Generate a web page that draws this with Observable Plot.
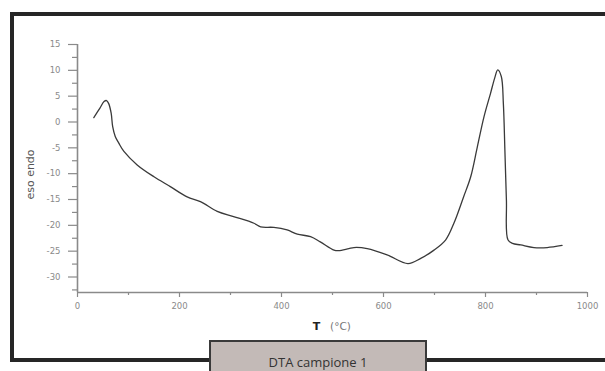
<!DOCTYPE html>
<html>
<head>
<meta charset="utf-8">
<script src="https://cdn.jsdelivr.net/npm/d3@7"></script>
<script src="https://cdn.jsdelivr.net/npm/@observablehq/plot@0.6"></script>
<style>
  html, body { margin: 0; padding: 0; background: #fff; }
  #wrap { position: relative; width: 605px; height: 371px; overflow: hidden; background: #fff; }
  #frame { position: absolute; left: 10px; top: 12px; width: 610px; height: 342px; border: 4px solid #262626; box-sizing: content-box; pointer-events: none; }
  #caption { position: absolute; left: 209px; top: 340px; width: 218px; height: 40px; background: #c3bab7; border: 2px solid #3a3a3a; font-family: "Open Sans", sans-serif; font-size: 13px; color: #333; text-align: center; line-height: 40px; box-sizing: border-box; }
  #caption span { position: relative; top: 0px; }
</style>
</head>
<body>
<div id="wrap">
  <div id="chart"></div>
  <div id="frame"></div>
  <div id="caption"><span>DTA campione 1</span></div>
</div>
<script>
// Temperature (°C)
const temps = [32, 44, 52, 57, 61, 66, 69, 74, 81, 91, 117, 150, 182, 215, 241, 274, 306, 346, 359, 385, 411, 431, 457, 476, 503, 512, 532, 542, 568, 607, 648, 673, 699, 722, 738, 757, 771, 784, 797, 810, 818, 824, 831, 835, 838, 841, 844, 853, 869, 895, 921, 950];
// DTA signal (eso / endo)
const signal = [0.85, 2.7, 3.95, 4.15, 3.6, 1.7, -0.9, -2.8, -4.1, -5.7, -8.3, -10.6, -12.5, -14.5, -15.4, -17.3, -18.3, -19.6, -20.3, -20.4, -20.9, -21.7, -22.2, -23.2, -24.8, -24.9, -24.5, -24.3, -24.5, -25.7, -27.4, -26.4, -24.8, -22.8, -19.6, -14.5, -10.6, -4.8, 1.0, 5.6, 8.5, 10.1, 8.8, 3.6, -5.4, -15.1, -22.8, -23.5, -23.8, -24.3, -24.3, -23.9];
const xMajor = [0, 200, 400, 600, 800, 1000];
const xMinor = [100, 300, 500, 700, 900];
const yMajor = [-30, -25, -20, -15, -10, -5, 0, 5, 10, 15];
const yMinor = [-32.5, -27.5, -22.5, -17.5, -12.5, -7.5, -2.5, 2.5, 7.5, 12.5];

const data = temps.map((t, i) => ({t, v: signal[i]}));
const axisColor = "#8a8a8a";

const chart = Plot.plot({
  width: 605,
  height: 371,
  marginLeft: 77,
  marginRight: 18,
  marginTop: 44,
  marginBottom: 79,
  style: {background: "transparent", fontFamily: "DejaVu Sans, sans-serif"},
  x: {domain: [0, 1000], label: null},
  y: {domain: [-33, 15], label: null},
  marks: [
    Plot.ruleX([0], {stroke: axisColor, strokeWidth: 1.6}),
    Plot.ruleY([-33], {stroke: axisColor, strokeWidth: 1.6}),
    Plot.axisX(xMinor, {tickSize: 3, tickFormat: () => "", label: null, stroke: axisColor, strokeWidth: 1.2}),
    Plot.axisX(xMajor, {tickSize: 5, tickPadding: 5, stroke: axisColor, strokeWidth: 1.2, fill: "#8a8a8a", fontSize: 8.5, label: null, tickFormat: d => String(d)}),
    Plot.axisY(yMinor, {tickSize: 5, tickFormat: () => "", label: null, stroke: axisColor, strokeWidth: 1.2}),
    Plot.axisY(yMajor, {tickSize: 9, tickPadding: 8, stroke: axisColor, strokeWidth: 1.2, fill: "#8a8a8a", fontSize: 8.5, label: null, tickFormat: d => String(d)}),
    Plot.text(["eso endo"], {frameAnchor: "left", textAnchor: "middle", dx: -47, dy: 6, rotate: -90, fontSize: 11, fill: "#555"}),
    Plot.text(["T"], {frameAnchor: "bottom", dx: -16, dy: 37, fontSize: 11, fill: "#222", fontWeight: "bold"}),
    Plot.text(["(°C)"], {frameAnchor: "bottom", dx: 8, dy: 37, fontSize: 10.5, fill: "#777"}),
    Plot.line(data, {x: "t", y: "v", stroke: "#3a3a3a", strokeWidth: 1.3, curve: "catmull-rom"})
  ]
});
document.getElementById("chart").appendChild(chart);
</script>
</body>
</html>
